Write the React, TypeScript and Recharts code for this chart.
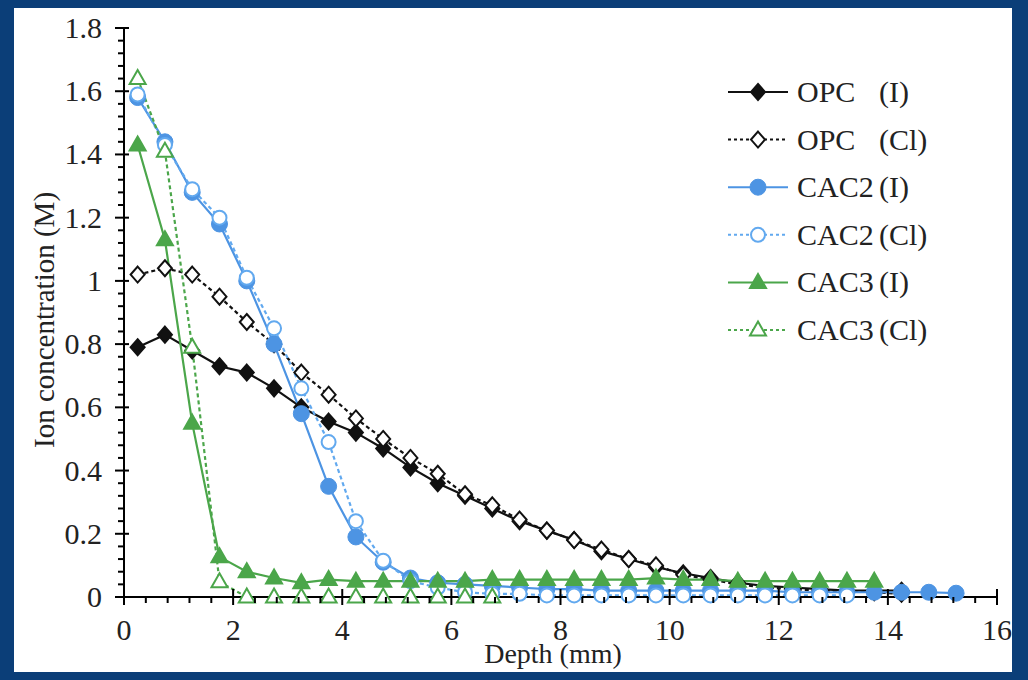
import React from 'react'
import { LineChart, Line, XAxis, YAxis } from 'recharts'

// depth of each sampled slice (mm)
const depth = [
  0.25, 0.75, 1.25, 1.75, 2.25, 2.75, 3.25, 3.75, 4.25, 4.75, 5.25, 5.75, 6.25, 6.75, 7.25, 7.75,
  8.25, 8.75, 9.25, 9.75, 10.25, 10.75, 11.25, 11.75, 12.25, 12.75, 13.25, 13.75, 14.25, 14.75, 15.25
]

const opcI = [
  0.79, 0.83, 0.78, 0.73, 0.71, 0.66, 0.6, 0.555, 0.52, 0.47, 0.41, 0.36, 0.32, 0.28, 0.24, 0.21,
  0.18, 0.145, 0.12, 0.095, 0.075, 0.06, 0.045, 0.035, 0.03, 0.025, 0.02, 0.02, 0.02
]
const opcCl = [
  1.02, 1.04, 1.02, 0.95, 0.87, 0.8, 0.71, 0.64, 0.565, 0.5, 0.44, 0.39, 0.325, 0.29, 0.245, 0.21,
  0.18, 0.15, 0.12, 0.1, 0.07, 0.055, 0.04, 0.03, 0.025, 0.02, 0.02, 0.015, 0.01
]
const cac2I = [
  1.58, 1.44, 1.28, 1.18, 1.0, 0.8, 0.58, 0.35, 0.19, 0.11, 0.06, 0.045, 0.04, 0.035, 0.03, 0.025,
  0.025, 0.02, 0.02, 0.02, 0.02, 0.02, 0.02, 0.02, 0.015, 0.015, 0.015, 0.015, 0.015, 0.015, 0.012
]
const cac2Cl = [
  1.59, 1.43, 1.29, 1.2, 1.01, 0.85, 0.66, 0.49, 0.24, 0.115, 0.05, 0.03, 0.015, 0.01, 0.01, 0.005,
  0.005, 0.005, 0.005, 0.005, 0.005, 0.005, 0.005, 0.005, 0.005, 0.005, 0.005
]
const cac3I = [
  1.43, 1.13, 0.55, 0.127, 0.08, 0.06, 0.045, 0.055, 0.05, 0.05, 0.05, 0.05, 0.05, 0.055, 0.055, 0.055,
  0.055, 0.055, 0.055, 0.06, 0.055, 0.055, 0.05, 0.05, 0.05, 0.05, 0.05, 0.05
]
const cac3Cl = [1.64, 1.41, 0.79, 0.048, 0, 0, 0, 0, 0, 0, 0, 0, 0, 0]

const xMajor = [0, 2, 4, 6, 8, 10, 12, 14, 16]
const yMajor = [0, 0.2, 0.4, 0.6, 0.8, 1, 1.2, 1.4, 1.6, 1.8]

const xTicks = xMajor.flatMap((v, i) => (i < xMajor.length - 1 ? [0, 0.4, 0.8, 1.2, 1.6].map(d => +(v + d).toFixed(2)) : [v]))
const yTicks = yMajor.flatMap((v, i) => (i < yMajor.length - 1 ? [0, 0.04, 0.08, 0.12, 0.16].map(d => +(v + d).toFixed(2)) : [v]))

const toPoints = (vals: number[]) => vals.map((y, i) => ({ x: depth[i], y }))

const BLACK = '#111'
const BLUE = '#4d94e3'
const BLUE_LIGHT = '#62a9ef'
const GREEN = '#4ba64a'
const FONT = '"Liberation Serif", "Times New Roman", serif'

type Shape = 'diamond' | 'circle' | 'triangle'

const marker = (shape: Shape, cx: number, cy: number, color: string, filled: boolean, key?: any) => {
  const fill = filled ? color : '#fff'
  if (shape === 'diamond')
    return <polygon key={key} points={`${cx},${cy - 8} ${cx + 7},${cy} ${cx},${cy + 8} ${cx - 7},${cy}`} fill={fill} stroke={color} strokeWidth={2} />
  if (shape === 'circle')
    return <circle key={key} cx={cx} cy={cy} r={filled ? 8 : 7} fill={fill} stroke={color} strokeWidth={filled ? 1 : 2} />
  return <polygon key={key} points={`${cx},${cy - 8.5} ${cx + 8},${cy + 5.5} ${cx - 8},${cy + 5.5}`} fill={fill} stroke={color} strokeWidth={2} />
}

const dot = (shape: Shape, color: string, filled: boolean) => (p: any) =>
  marker(shape, p.cx, p.cy, color, filled, p.index)

const series = [
  { name: 'OPC', tag: '(I)', data: opcI, color: BLACK, shape: 'diamond' as Shape, filled: true, dash: undefined },
  { name: 'OPC', tag: '(Cl)', data: opcCl, color: BLACK, shape: 'diamond' as Shape, filled: false, dash: '4 3' },
  { name: 'CAC2', tag: '(I)', data: cac2I, color: BLUE, shape: 'circle' as Shape, filled: true, dash: undefined },
  { name: 'CAC2', tag: '(Cl)', data: cac2Cl, color: BLUE_LIGHT, shape: 'circle' as Shape, filled: false, dash: '4 3' },
  { name: 'CAC3', tag: '(I)', data: cac3I, color: GREEN, shape: 'triangle' as Shape, filled: true, dash: undefined },
  { name: 'CAC3', tag: '(Cl)', data: cac3Cl, color: GREEN, shape: 'triangle' as Shape, filled: false, dash: '4 3' }
]

const isMajor = (v: number, step: number) => Math.abs(v / step - Math.round(v / step)) < 1e-6

const XTick = ({ x, y, payload }: any) => {
  const major = isMajor(payload.value, 2)
  return (
    <g>
      <line x1={x} x2={x} y1={major ? y - 8 : y} y2={major ? y + 8 : y + 6} stroke="#000" strokeWidth={2} />
      {major && (
        <text x={x} y={y + 43} textAnchor="middle" fontFamily={FONT} fontSize={30} fill="#222">
          {payload.value}
        </text>
      )}
    </g>
  )
}

const YTick = ({ x, y, payload }: any) => {
  const major = isMajor(payload.value, 0.2)
  return (
    <g>
      <line x1={major ? x - 9 : x - 6} x2={major ? x + 5 : x} y1={y} y2={y} stroke="#000" strokeWidth={2} />
      {major && (
        <text x={x - 22} y={y + 10} textAnchor="end" fontFamily={FONT} fontSize={30} fill="#222">
          {String(payload.value)}
        </text>
      )}
    </g>
  )
}

const LegendBox = () => (
  <svg width={270} height={290} style={{ position: 'absolute', left: 720, top: 70 }}>
    {series.map((s, i) => {
      const cy = 22 + i * 47.6
      return (
        <g key={i}>
          <line x1={8} x2={68} y1={cy} y2={cy} stroke={s.color} strokeWidth={2} strokeDasharray={s.dash ? '3 3' : undefined} />
          {marker(s.shape, 38, cy, s.color, s.filled)}
          <text x={77} y={cy + 10} fontFamily={FONT} fontSize={30} fill="#222">{s.name}</text>
          <text x={159} y={cy + 10} fontFamily={FONT} fontSize={30} fill="#222">{s.tag}</text>
        </g>
      )
    })}
  </svg>
)

export default function App() {
  return (
    <div style={{ position: 'absolute', left: 0, top: 0, width: 1028, height: 680, background: '#0b3e78' }}>
      <div style={{ position: 'absolute', left: 14, top: 8, width: 998, height: 664, background: '#fff', overflow: 'hidden' }}>
        <LineChart width={998} height={664} margin={{ top: 20, right: 15, left: 0, bottom: 35 }}>
          <XAxis
            type="number"
            dataKey="x"
            domain={[0, 16]}
            ticks={xTicks}
            interval={0}
            tickSize={0}
            tickMargin={0}
            tickLine={false}
            tick={<XTick />}
            height={40}
            axisLine={{ stroke: '#000', strokeWidth: 2 }}
            allowDuplicatedCategory={false}
            label={{
              content: () => (
                <text x={539} y={655} textAnchor="middle" fontFamily={FONT} fontSize={28} fill="#222">
                  Depth (mm)
                </text>
              )
            }}
          />
          <YAxis
            type="number"
            domain={[0, 1.8]}
            ticks={yTicks}
            interval={0}
            tickSize={0}
            tickMargin={0}
            tickLine={false}
            tick={<YTick />}
            width={110}
            axisLine={{ stroke: '#000', strokeWidth: 2 }}
            label={{
              content: () => (
                <text x={40} y={312} transform="rotate(-90 40 312)" textAnchor="middle" fontFamily={FONT} fontSize={29} fill="#222">
                  Ion concentration (M)
                </text>
              )
            }}
          />
          {series.map((s, i) => (
            <Line
              key={i}
              data={toPoints(s.data)}
              dataKey="y"
              type="linear"
              stroke={s.color}
              strokeWidth={2.2}
              strokeDasharray={s.dash}
              dot={dot(s.shape, s.color, s.filled)}
              activeDot={false}
              isAnimationActive={false}
            />
          ))}
        </LineChart>
      </div>
      <LegendBox />
    </div>
  )
}
